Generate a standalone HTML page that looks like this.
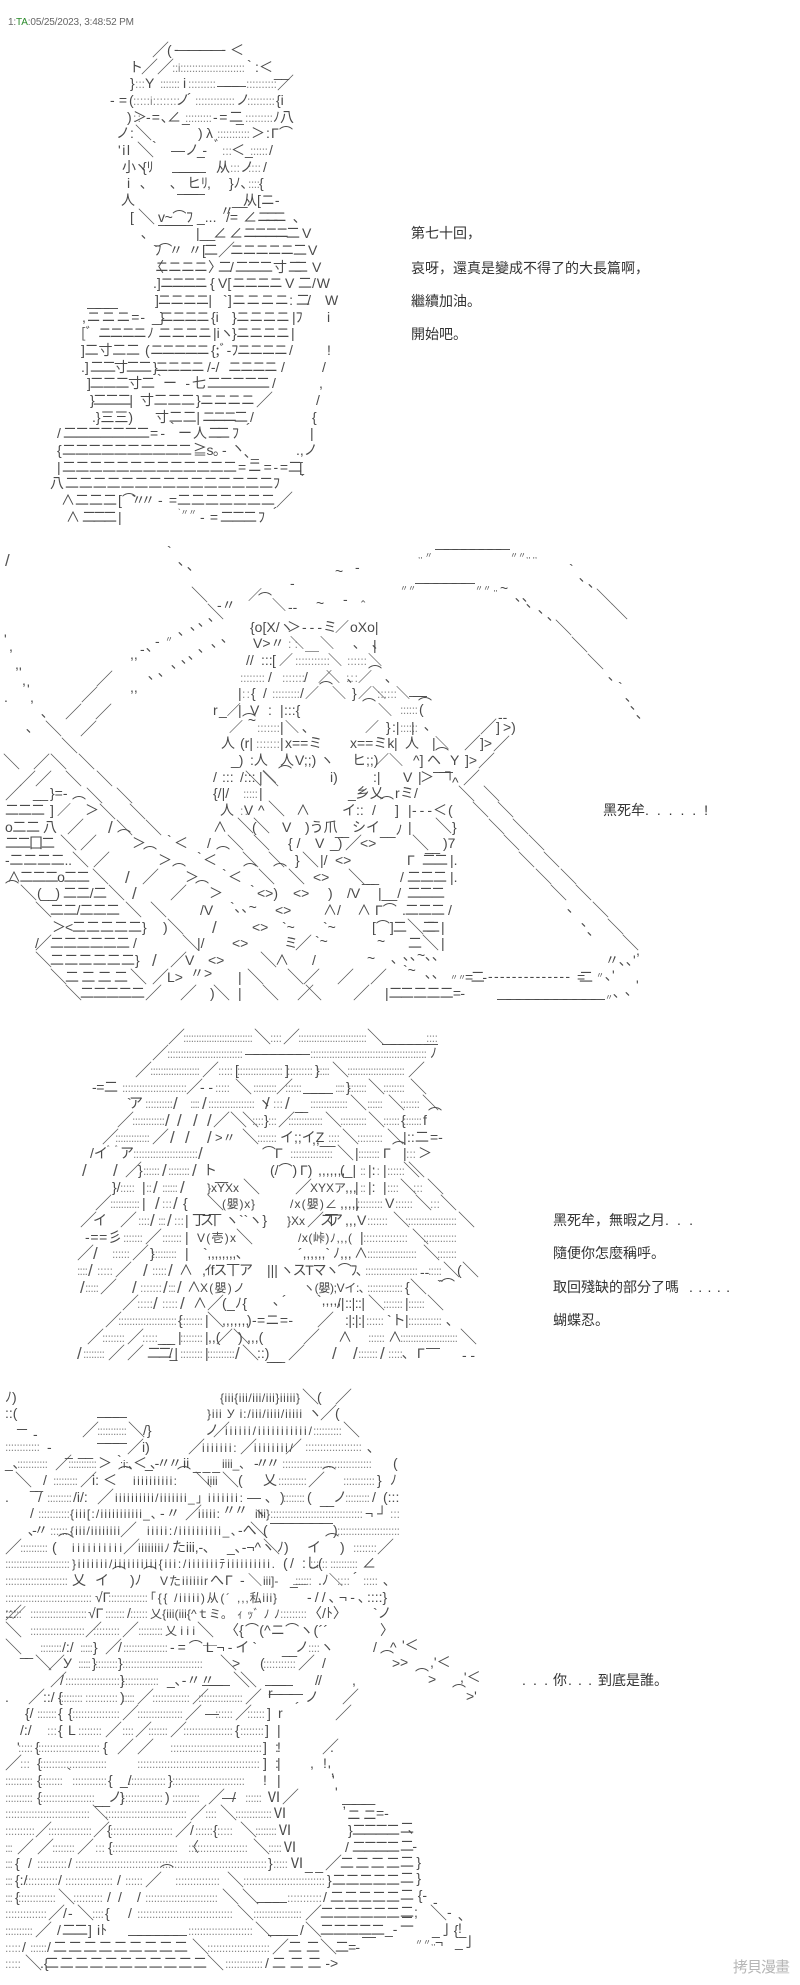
<!DOCTYPE html>
<html><head><meta charset="utf-8"><style>
html,body{margin:0;padding:0;background:#fff}
svg{display:block;position:absolute;left:0;top:0}
text{font-family:"Liberation Sans","Noto Sans CJK JP",sans-serif;font-size:14px;fill:#4a4a4a;white-space:pre}
.d text{font-size:12px;fill:#8a8a8a}
.l text{font-size:17px;fill:#555}
.m text{font-size:14px;fill:#333}
</style></head><body>
<svg width="800" height="1985" viewBox="0 0 800 1985" xmlns="http://www.w3.org/2000/svg">
<rect width="800" height="1985" fill="#fff"/>
<text x="8" y="25" style="font-size:10px;fill:#666" textLength="126">1:<tspan style="fill:#2a8a2a">TA</tspan>:05/25/2023, 3:48:52 PM</text>

<!-- FIG 1 -->
<g class="l">
<text x="152" y="56">／</text><text x="141" y="73">／</text><text x="157" y="73">／</text><text x="277" y="89">／</text><text x="135" y="139">＼</text><text x="137" y="156">＼</text><text x="138" y="223">＼</text><text x="256" y="406">／</text><text x="276" y="506">／</text><text x="218" y="256">／</text>
</g>
<g class="d">
<text x="172" y="72" textLength="73">::i::::::::::::::::::::::</text><text x="135" y="88" textLength="10">:::</text><text x="160" y="88" textLength="20">:::::::</text><text x="188" y="88" textLength="28">:::::::::</text><text x="246" y="88" textLength="31">::::::::::</text><text x="133" y="105" textLength="47">:::::i::::::::</text><text x="195" y="105" textLength="40">:::::::::::::</text><text x="247" y="105" textLength="28">:::::::::</text><text x="185" y="122" textLength="27">:::::::::</text><text x="245" y="122" textLength="28">:::::::::</text><text x="217" y="138" textLength="33">:::::::::::</text><text x="222" y="155" textLength="10">:::</text><text x="250" y="155" textLength="18">::::::</text><text x="230" y="172" textLength="10">:::</text><text x="248" y="172" textLength="13">::::</text><text x="248" y="188" textLength="12">::::</text><text x="133" y="122" textLength="8">::</text>
</g>
<text x="167" y="55">(</text><text x="174" y="54" textLength="52">-――――-</text><text x="230" y="55">＜</text>
<text x="129" y="72">ト</text><text x="247" y="70">`</text><text x="255" y="72">:</text><text x="259" y="72">＜</text><text x="274" y="77" textLength="15">__</text>
<text x="130" y="88">}</text><text x="145" y="88">Y</text><text x="183" y="88">i</text><text x="217" y="90" textLength="29">―――</text>
<text x="110" y="105" textLength="17">-=</text><text x="129" y="105">(</text><text x="176" y="105">ノ</text><text x="187" y="103">´</text><text x="236" y="105">ノ</text><text x="276" y="105">{i</text>
<text x="127" y="122">)</text><text x="133" y="122">＞</text><text x="146" y="122" textLength="22">-=､</text><text x="167" y="122">∠</text><text x="182" y="122">_</text><text x="213" y="122" textLength="30">-=二</text><text x="236" y="122" textLength="8">_</text><text x="273" y="122">ﾉ八</text>
<text x="116" y="138">ノ:</text><text x="198" y="138">)</text><text x="206" y="138">λ</text><text x="251" y="138">＞</text><text x="266" y="138">:</text><text x="271" y="138" textLength="22">Γ⌒</text>
<text x="118" y="155" textLength="12">'il</text><text x="152" y="151">`</text><text x="171" y="155">―</text><text x="185" y="155">ノ</text><text x="197" y="155" textLength="10">_-</text><text x="214" y="151">ﾞ</text><text x="231" y="155">＜</text><text x="245" y="155">_</text><text x="269" y="155">/</text>
<text x="122" y="172">小</text><text x="134" y="172">ヽ</text><text x="142" y="172">{ﾘ</text><text x="172" y="176" textLength="34">――――</text><text x="216" y="172">从</text><text x="240" y="172">ノ</text><text x="263" y="172">/</text>
<text x="127" y="188">i</text><text x="140" y="188">､</text><text x="170" y="188">､</text><text x="187" y="188">ヒﾘ</text><text x="207" y="188">,</text><text x="177" y="198" textLength="28">―――</text><text x="229" y="188">}ﾉ､</text><text x="259" y="188">{</text>
<text x="121" y="205">人</text><text x="232" y="205">__</text><text x="243" y="205">从[ニ-</text>
<text x="130" y="222">[</text><text x="158" y="222" textLength="35">v~⌒ﾌ</text><text x="197" y="222">_...</text><text x="220" y="216">〃</text><text x="226" y="222">/=</text><text x="243" y="222">∠</text><text x="257" y="222" textLength="30">ニニニ</text><text x="293" y="222">､</text>
<text x="141" y="238">､</text><text x="158" y="229" textLength="35">――――</text><text x="196" y="238">|__</text><text x="213" y="238">∠</text><text x="229" y="238">∠</text><text x="243" y="238" textLength="57">ニニニニ二</text><text x="302" y="238">V</text>
<text x="153" y="255" textLength="30">`ﾌ⌒〃</text><text x="188" y="255">〃[</text><text x="204" y="255">二</text><text x="230" y="255" textLength="77">ニニニニニ二</text><text x="308" y="255">V</text>
<text x="150" y="272">〈</text><text x="155" y="272" textLength="53">ニニニニ</text><text x="208" y="272">〉</text><text x="218" y="272">二</text><text x="230" y="272">/</text><text x="235" y="272" textLength="38">二二二</text><text x="273" y="272">寸</text><text x="288" y="272" textLength="20">二二</text><text x="312" y="272">V</text>
<text x="153" y="288">.]</text><text x="160" y="288" textLength="48">ニニニニ</text><text x="210" y="288">{</text><text x="218" y="288">V[</text><text x="232" y="288" textLength="51">ニニニニ</text><text x="285" y="288">V</text><text x="298" y="288">二</text><text x="312" y="288" textLength="18">/W</text>
<text x="155" y="305" textLength="57">]ニニニニ|</text><text x="223" y="305" textLength="70">`]ニニニニ:</text><text x="296" y="305" textLength="15">二/</text><text x="325" y="305">W</text>
<text x="87" y="312" textLength="31">―――</text><text x="82" y="322" textLength="63">,ニニニ=-</text><text x="152" y="322">_}</text><text x="160" y="322" textLength="50">ニニニニ</text><text x="211" y="322">{i</text><text x="232" y="322" textLength="58">}ニニニニ</text><text x="292" y="322">|ﾌ</text><text x="327" y="322">i</text>
<text x="81" y="338">[ﾞ</text><text x="98" y="338" textLength="49">ニニニニ</text><text x="147" y="338">ﾉ</text><text x="158" y="338" textLength="54">ニニニニ</text><text x="213" y="338">|iヽ</text><text x="232" y="338">}</text><text x="236" y="338" textLength="54">ニニニニ</text><text x="291" y="338">|</text>
<text x="81" y="355" textLength="59">]二寸二二</text><text x="145" y="355">(</text><text x="150" y="355" textLength="60">ニニニニニ</text><text x="211" y="355">{;ﾞ-ﾌ</text><text x="237" y="355" textLength="51">ニニニニ</text><text x="289" y="355">/</text><text x="327" y="355">!</text>
<text x="81" y="372">.]</text><text x="90" y="372" textLength="62">二二寸二二</text><text x="153" y="372">}</text><text x="155" y="372" textLength="50">ニニニニ</text><text x="207" y="372">/-/</text><text x="228" y="372" textLength="50">ニニニニ</text><text x="281" y="372">/</text><text x="322" y="372">/</text>
<text x="87" y="388" textLength="68">]二二二寸二</text><text x="157" y="384">`</text><text x="163" y="388" textLength="27">ー-</text><text x="192" y="388">七</text><text x="207" y="388" textLength="63">二二二二二</text><text x="272" y="388">/</text><text x="319" y="388">,</text>
<text x="90" y="405" textLength="43">}二二二|</text><text x="140" y="405" textLength="55">寸二二二</text><text x="196" y="405">}</text><text x="200" y="405" textLength="55">ニニニニ</text><text x="316" y="405">/</text>
<text x="92" y="422" textLength="41">.}三三)</text><text x="155" y="422" textLength="45">寸二二|</text><text x="202" y="422" textLength="46">ニニニ二</text><text x="250" y="422">/</text><text x="312" y="422">{</text>
<text x="57" y="438">/</text><text x="63" y="438" textLength="87">二二二二二二二</text><text x="150" y="438" textLength="15">=-</text><text x="170" y="432">`</text><text x="178" y="438">ー</text><text x="193" y="438">人</text><text x="208" y="438" textLength="22">二二</text><text x="232" y="438">ﾌ</text><text x="246" y="433">´</text><text x="310" y="438">|</text>
<text x="57" y="455">{</text><text x="62" y="455" textLength="130">二二二二二二二二二二</text><text x="193" y="455" textLength="27">≧s｡</text><text x="222" y="455">-</text><text x="231" y="453">ヽ</text><text x="244" y="457">､_</text><text x="296" y="455">.,ノ</text>
<text x="57" y="472">|</text><text x="62" y="472" textLength="175">二二二二二二二二二二二二二</text><text x="238" y="472" textLength="50">=ニ=-=</text><text x="288" y="472" textLength="15">二[</text>
<text x="50" y="488">八</text><text x="65" y="488" textLength="215">二二二二二二二二二二二二二二二ﾌ</text><text x="301" y="484">´</text>
<text x="61" y="505">∧</text><text x="75" y="505" textLength="42">二二二</text><text x="118" y="505">[</text><text x="122" y="505" textLength="33">⌒`〃〃</text><text x="158" y="505" textLength="19">-=</text><text x="177" y="505" textLength="98">二二二二二二二</text>
<text x="66" y="522">∧</text><text x="82" y="522" textLength="35">二二二</text><text x="118" y="522">|</text><text x="178" y="515" style="font-size:8px">`〃〃</text><text x="200" y="522" textLength="18">-=</text><text x="220" y="522" textLength="37">二二二</text><text x="258" y="522">ﾌ</text><text x="273" y="517">´</text>
<g class="m"><text x="411" y="238">第七十回，</text><text x="411" y="273">哀呀，還真是變成不得了的大長篇啊，</text><text x="411" y="306">繼續加油。</text><text x="411" y="339">開始吧。</text></g>

<!-- FIG 2 -->
<g class="l">
<text x="5" y="566">/</text><text x="191" y="601">＼</text><text x="207" y="618">＼</text>
<text x="96" y="685">／</text><text x="81" y="701">／</text><text x="65" y="718">／</text><text x="95" y="718">／</text><text x="80" y="735">／</text>
<text x="45" y="735">＼</text><text x="61" y="752">＼</text><text x="78" y="768">＼</text><text x="96" y="785">＼</text><text x="116" y="802">＼</text><text x="129" y="818">＼</text><text x="145" y="834">＼</text>
<text x="50" y="768">＼</text><text x="65" y="785">＼</text><text x="86" y="802">＼</text><text x="99" y="818">＼</text><text x="116" y="834">＼</text>
<text x="3" y="768">＼</text><text x="19" y="785">／</text><text x="33" y="768">／</text><text x="35" y="785">／</text><text x="5" y="799">／</text>
<text x="245" y="785">＼</text><text x="262" y="785">＼</text>
<text x="555" y="634">＼</text><text x="571" y="651">＼</text><text x="587" y="668">＼</text><text x="596" y="603">＼</text><text x="611" y="618">＼</text>
<text x="480" y="733">／</text><text x="464" y="749">／</text><text x="493" y="750">／</text><text x="478" y="767">／</text><text x="463" y="784">／</text>
<text x="483" y="800">＼</text><text x="497" y="816">＼</text><text x="512" y="833">＼</text><text x="528" y="849">＼</text><text x="543" y="866">＼</text><text x="560" y="883">＼</text><text x="575" y="899">＼</text><text x="592" y="916">＼</text><text x="607" y="933">＼</text><text x="622" y="949">＼</text>
<text x="458" y="800">＼</text><text x="472" y="816">＼</text><text x="488" y="833">＼</text><text x="503" y="849">＼</text><text x="518" y="866">＼</text><text x="535" y="883">＼</text><text x="550" y="899">＼</text>
<text x="60" y="849">＼</text><text x="72" y="866">＼</text><text x="92" y="883">＼</text><text x="20" y="899">＼</text><text x="108" y="899">＼</text><text x="35" y="916">＼</text><text x="125" y="916">＼</text><text x="150" y="916">＼</text><text x="167" y="933">＼</text><text x="182" y="949">＼</text><text x="35" y="966">＼</text><text x="50" y="983">＼</text><text x="65" y="999">＼</text><text x="35" y="949">／</text>
<text x="67" y="833">／</text><text x="80" y="849">／</text><text x="108" y="833">/</text><text x="93" y="866">／</text><text x="125" y="883">/</text><text x="142" y="883">／</text><text x="132" y="899">/</text><text x="170" y="899">／</text><text x="212" y="933">/</text><text x="170" y="966">／</text><text x="152" y="983">／</text><text x="180" y="999">／</text><text x="145" y="999">／</text><text x="130" y="983">＼</text><text x="152" y="966">/</text>
<text x="227" y="849">＼</text><text x="253" y="849">＼</text><text x="242" y="866">＼</text><text x="268" y="866">＼</text><text x="258" y="883">＼</text><text x="288" y="883">＼</text><text x="302" y="866">＼</text><text x="348" y="883">＼</text><text x="237" y="832">＼</text><text x="253" y="832">＼</text><text x="268" y="815">＼</text><text x="345" y="849">／</text><text x="295" y="949">／</text><text x="260" y="966">＼</text><text x="247" y="983">＼</text><text x="287" y="983">＼</text><text x="303" y="983">／</text><text x="337" y="983">／</text><text x="370" y="983">／</text><text x="213" y="999">＼</text><text x="262" y="999">＼</text><text x="297" y="999">／</text><text x="305" y="999">＼</text><text x="353" y="999">／</text>
<text x="412" y="849">＼</text><text x="435" y="832">＼</text><text x="407" y="933">＼</text><text x="422" y="949">＼</text>
</g>
<g class="d">
<text x="288" y="648" textLength="10">::</text><text x="295" y="665" textLength="35">:::::::::::</text><text x="347" y="665" textLength="20">::::::</text><text x="240" y="682" textLength="25">::::::::</text><text x="282" y="682" textLength="23">:::::::</text><text x="346" y="682" textLength="12">:::</text><text x="272" y="698" textLength="28">:::::::::</text><text x="377" y="698" textLength="20">::::::</text><text x="257" y="732" textLength="23">:::::::</text><text x="256" y="748" textLength="24">:::::::</text><text x="400" y="732" textLength="18">::::::</text><text x="400" y="714" textLength="18">::::::</text><text x="243" y="798" textLength="15">:::::</text><text x="240" y="815" textLength="8">::</text><text x="242" y="698" textLength="8">::</text>
</g>
<text x="418" y="558" style="font-size:8px">,, 〃</text><text x="435" y="553" textLength="75">――――――――</text><text x="510" y="558" style="font-size:8px">〃〃,, ,,</text>
<text x="400" y="591" style="font-size:8px">〃〃</text><text x="415" y="587" textLength="60">――――――</text><text x="475" y="591" style="font-size:8px">〃〃 ,,</text><text x="500" y="593">~</text>
<text x="167" y="556">`</text><text x="178" y="565">､</text><text x="187" y="570">､</text><text x="335" y="576">~</text><text x="355" y="572">-</text><text x="290" y="588">-</text>
<text x="569" y="574">`</text><text x="579" y="581">､</text><text x="588" y="587">､</text><text x="515" y="601">､､</text><text x="526" y="607">､</text><text x="538" y="613">､</text><text x="547" y="620">､</text><text x="608" y="680">､</text><text x="618" y="692">`</text><text x="625" y="701">､</text><text x="630" y="709">､</text><text x="636" y="718">､</text>
<text x="217" y="610">-〃</text><text x="208" y="621">､</text><text x="198" y="626">､</text><text x="190" y="630">､</text><text x="178" y="635">､</text><text x="165" y="642" style="font-size:8px">〃</text><text x="155" y="646">-</text><text x="146" y="651">､</text><text x="140" y="654">-</text><text x="130" y="659">,,</text>
<text x="221" y="642">､</text><text x="211" y="647">､</text><text x="198" y="652">､</text><text x="188" y="659">､</text><text x="181" y="663">､</text><text x="171" y="668">､</text><text x="158" y="676">､</text><text x="148" y="679">､</text><text x="130" y="692">,,</text>
<text x="4" y="644">'</text><text x="9" y="651">,</text><text x="15" y="669">,</text><text x="19" y="677">'</text><text x="22" y="685">,</text><text x="27" y="694">'</text><text x="30" y="702">,</text><text x="4" y="702">.</text><text x="41" y="717">､</text><text x="26" y="732">､</text>
<text x="248" y="600">／</text><text x="258" y="604" textLength="12">⌒</text><text x="272" y="610">＼</text><text x="288" y="612">--</text><text x="316" y="608">~</text><text x="343" y="604">-</text><text x="356" y="614">＾</text>
<text x="250" y="632">{o[X/ヽ</text><text x="287" y="632">＞</text><text x="302" y="632" textLength="20">---</text><text x="323" y="632">ミ</text><text x="335" y="632">／</text><text x="350" y="632">oXo|</text>
<text x="253" y="648">V&gt;〃</text><text x="290" y="648">＼</text><text x="305" y="650" textLength="15">＿</text><text x="320" y="648">＼</text><text x="353" y="648">､</text><text x="372" y="648">､</text><text x="373" y="650">|</text>
<text x="246" y="665">//</text><text x="261" y="665">:::</text><text x="272" y="665">[</text><text x="279" y="665">／</text><text x="328" y="665">＼</text><text x="368" y="665">＼</text>
<text x="268" y="682">/</text><text x="304" y="682">/</text><text x="318" y="682">／</text><text x="326" y="682">＼</text><text x="347" y="682">､</text><text x="358" y="682">／</text><text x="368" y="677">⌒</text><text x="385" y="682">､</text>
<text x="238" y="698">|</text><text x="251" y="698">{</text><text x="263" y="698">/</text><text x="300" y="698">/</text><text x="305" y="698">／</text><text x="319" y="693">⌒</text><text x="332" y="698">＼</text><text x="352" y="698">}</text><text x="358" y="698">／＼</text><text x="396" y="698">＼</text><text x="409" y="700" textLength="18">――</text>
<text x="213" y="715">r</text><text x="219" y="715">_／</text><text x="238" y="715">|</text><text x="250" y="715">V</text><text x="268" y="715">:</text><text x="280" y="715">|</text><text x="284" y="715">:::{</text><text x="362" y="710" textLength="15">⌒</text><text x="378" y="715">＼</text><text x="418" y="709">⌒</text><text x="419" y="714">(</text>
<text x="229" y="732">／</text><text x="242" y="725" textLength="14">⌒~</text><text x="280" y="732">|</text><text x="285" y="732">＼</text><text x="302" y="732">､</text><text x="365" y="732">／</text><text x="386" y="732">}</text><text x="392" y="732">:|</text><text x="411" y="732">|</text><text x="424" y="730">､</text><text x="496" y="732">]</text><text x="498" y="722">--</text><text x="503" y="732">&gt;)</text>
<text x="221" y="748">人</text><text x="240" y="748">(r|</text><text x="280" y="748">|</text><text x="285" y="748">x==ミ</text><text x="350" y="748">x==ミk</text><text x="394" y="748">|</text><text x="405" y="748">人</text><text x="432" y="748">|</text><text x="435" y="748">＼</text><text x="480" y="748">]&gt;</text>
<text x="231" y="765">_)</text><text x="250" y="765">:人</text><text x="280" y="765">人</text><text x="295" y="765">V;;)</text><text x="320" y="765">ヽ</text><text x="352" y="765">ヒ;;)</text><text x="375" y="765">／＼</text><text x="413" y="765">^]</text><text x="427" y="765">ヘ</text><text x="435" y="759" textLength="12">⌒</text><text x="450" y="765">Y</text><text x="465" y="765">]&gt;</text>
<text x="213" y="782">/</text><text x="222" y="782">:::</text><text x="240" y="782">/:::</text><text x="259" y="782">|＼</text><text x="278" y="777" textLength="17">⌒</text><text x="330" y="782">i)</text><text x="373" y="782">:|</text><text x="403" y="782">V</text><text x="418" y="782">|</text><text x="420" y="782">＞</text><text x="433" y="776" textLength="22">――┐</text><text x="452" y="787" textLength="8">^</text>
<text x="33" y="798" textLength="15">__</text><text x="50" y="798">}=-</text><text x="213" y="798">{/|/</text><text x="259" y="798">|</text><text x="348" y="798">_乡乂</text><text x="395" y="798">r</text><text x="400" y="798">ミ/</text>
<text x="5" y="815" textLength="40">二二二</text><text x="50" y="815">]</text><text x="57" y="815">／</text><text x="72" y="808" textLength="13">⌒</text><text x="85" y="815">＞</text><text x="220" y="815">人</text><text x="240" y="815"> V</text><text x="258" y="815">^</text><text x="296" y="815">∧</text><text x="342" y="815">イ::</text><text x="372" y="815">/</text><text x="380" y="808" textLength="12">⌒</text><text x="395" y="815">]</text><text x="408" y="815">|</text><text x="412" y="815" textLength="20">---</text><text x="433" y="815">＜</text><text x="448" y="815">(</text>
<text x="5" y="832" textLength="35">o二二</text><text x="43" y="832">八</text><text x="213" y="832">∧</text><text x="252" y="832">(</text><text x="282" y="832">V</text><text x="305" y="832">)う爪</text><text x="335" y="835" textLength="14">__</text><text x="352" y="832">シイ</text><text x="380" y="835">__ﾉ</text><text x="408" y="832">|</text><text x="452" y="832">}</text>
<text x="5" y="848" textLength="50">二二囗二</text><text x="117" y="841" textLength="13">⌒</text><text x="132" y="848">＞</text><text x="167" y="845">`</text><text x="174" y="848">＜</text><text x="207" y="848">/</text><text x="288" y="848">{ /</text><text x="315" y="848">V</text><text x="330" y="848">_)</text><text x="360" y="848">&lt;&gt;</text><text x="425" y="851" textLength="15">__</text><text x="443" y="848">)7</text>
<text x="5" y="865" textLength="67">-二二二二..</text><text x="143" y="858" textLength="14">⌒</text><text x="158" y="865">＞</text><text x="197" y="862">`</text><text x="203" y="865">＜</text><text x="216" y="858" textLength="14">⌒</text><text x="295" y="865">}</text><text x="320" y="865">|/</text><text x="335" y="865">&lt;&gt;</text><text x="407" y="865">Γ</text><text x="422" y="865" textLength="26">二二</text><text x="450" y="865">|.</text>
<text x="7" y="882" textLength="83">∧二二二o二二</text><text x="172" y="875" textLength="13">⌒</text><text x="185" y="882">＞</text><text x="222" y="879">`</text><text x="228" y="882">＜</text><text x="243" y="875" textLength="14">⌒</text><text x="273" y="875" textLength="14">⌒</text><text x="313" y="882">&lt;&gt;</text><text x="362" y="882" textLength="17">___</text><text x="400" y="882">/</text><text x="407" y="882" textLength="40">二二二</text><text x="450" y="882">|.</text>
<text x="5" y="892" textLength="13">⌒</text><text x="37" y="898" textLength="23">(__)</text><text x="63" y="898" textLength="44">二二/二</text><text x="195" y="892" textLength="14">⌒</text><text x="209" y="898">＞</text><text x="250" y="895">`</text><text x="257" y="898">&lt;&gt;)</text><text x="293" y="898">&lt;&gt;</text><text x="328" y="898">)</text><text x="347" y="898">/V</text><text x="378" y="898">|__/</text><text x="407" y="898" textLength="38">二二二</text>
<text x="50" y="915" textLength="70">二二/二二二</text><text x="200" y="915">/V</text><text x="230" y="912">`､､~</text><text x="275" y="915">&lt;&gt;</text><text x="323" y="915">∧/</text><text x="357" y="915">∧</text><text x="375" y="915">Γ⌒</text><text x="402" y="915" textLength="43">.二二二</text><text x="448" y="915">/</text>
<text x="52" y="932">＞</text><text x="65" y="932">&lt;</text><text x="72" y="932" textLength="70">二二二二二</text><text x="142" y="932">}</text><text x="163" y="932">)</text><text x="252" y="932">&lt;&gt;</text><text x="282" y="932">`~</text><text x="323" y="932">`~</text><text x="372" y="932">[⌒]</text><text x="393" y="932">二</text><text x="422" y="932" textLength="18">二二</text><text x="441" y="932">|</text>
<text x="35" y="948">/</text><text x="50" y="948" textLength="80">二二二二二二</text><text x="133" y="948">/</text><text x="197" y="948">|/</text><text x="232" y="948">&lt;&gt;</text><text x="284" y="948">ミ</text><text x="315" y="946">`~</text><text x="377" y="946">~</text><text x="408" y="948">二</text><text x="441" y="948">|</text>
<text x="50" y="965" textLength="85">二二二二二二</text><text x="135" y="965">}</text><text x="185" y="965">V</text><text x="208" y="965">&lt;&gt;</text><text x="275" y="965">∧</text><text x="312" y="965">/</text><text x="367" y="963">~</text><text x="391" y="963">､</text><text x="403" y="960">､､~､､</text><text x="605" y="965">〃､､'</text>
<text x="65" y="982" textLength="63">二二二二</text><text x="167" y="982">L&gt;</text><text x="190" y="978">〃&gt;</text><text x="238" y="982">|</text><text x="403" y="975">`~</text><text x="425" y="978">､､</text><text x="450" y="980" style="font-size:8px">〃〃</text><text x="465" y="982" textLength="22">=二-</text><text x="488" y="981" textLength="82">--------------</text><text x="577" y="982" textLength="16">=二</text><text x="596" y="978" style="font-size:8px">〃</text><text x="605" y="980">､'</text>
<text x="80" y="998" textLength="65">二二二二二</text><text x="210" y="998">)</text><text x="238" y="998">|</text><text x="385" y="998">|二</text><text x="400" y="998" textLength="65">二二二二=-</text><text x="497" y="1003" textLength="108">―――――――――――</text><text x="605" y="1000" style="font-size:8px">〃</text><text x="613" y="997">､</text><text x="625" y="995">､</text><text x="636" y="990">'</text>
<text x="567" y="912">､</text><text x="581" y="926">､</text><text x="587" y="935">､</text><text x="636" y="955">,</text>
<g class="m"><text x="603" y="815">黑死牟</text><text x="645" y="815" textLength="63">. . . . . !</text></g>

<!-- FIG 3 -->
<g class="l">
<text x="168" y="1043">／</text><text x="254" y="1043">＼</text><text x="283" y="1043">／</text><text x="367" y="1043">＼</text>
<text x="152" y="1059">／</text>
<text x="135" y="1076">／</text><text x="202" y="1076">／</text><text x="332" y="1076">＼</text><text x="408" y="1076">／</text>
<text x="186" y="1093">／</text><text x="235" y="1093">＼</text><text x="276" y="1093">／</text><text x="368" y="1093">＼</text><text x="410" y="1093">＼</text>
<text x="173" y="1109">/</text><text x="202" y="1109">/</text><text x="265" y="1109">/</text><text x="285" y="1109">/</text><text x="350" y="1109">＼</text><text x="388" y="1109">＼</text><text x="422" y="1109">＼</text>
<text x="117" y="1126">／</text><text x="165" y="1126">/</text><text x="177" y="1126">/</text><text x="193" y="1126">/</text><text x="207" y="1126">/</text><text x="213" y="1126">／＼</text><text x="242" y="1126">＼</text><text x="278" y="1126">／</text><text x="325" y="1126">＼</text><text x="368" y="1126">＼</text>
<text x="102" y="1143">／</text><text x="152" y="1143">／</text><text x="170" y="1143">/</text><text x="185" y="1143">/</text><text x="207" y="1143">/</text><text x="242" y="1143">＼</text><text x="342" y="1143">＼</text><text x="387" y="1143">＼</text>
<text x="198" y="1159">/</text><text x="337" y="1159">＼</text><text x="403" y="1176">＼</text>
<text x="82" y="1176">/</text><text x="113" y="1176">/</text><text x="125" y="1176">／</text><text x="162" y="1176">/</text><text x="192" y="1176">/</text><text x="408" y="1176">＼</text>
<text x="153" y="1193">/</text><text x="180" y="1193">/</text><text x="243" y="1193">＼</text><text x="295" y="1193">／</text><text x="400" y="1193">＼</text><text x="427" y="1193">＼</text>
<text x="95" y="1209">／</text><text x="155" y="1209">/</text><text x="173" y="1209">/</text><text x="207" y="1209">＼</text><text x="415" y="1209">＼</text><text x="440" y="1209">＼</text>
<text x="80" y="1226">／</text><text x="120" y="1226">／</text><text x="150" y="1226">/</text><text x="167" y="1226">/</text><text x="393" y="1226">＼</text><text x="458" y="1226">＼</text><text x="307" y="1226">／</text>
<text x="145" y="1243">／</text><text x="236" y="1243">＼</text><text x="412" y="1243">＼</text>
<text x="77" y="1259">／</text><text x="93" y="1259">/</text><text x="132" y="1259">／</text><text x="423" y="1259">＼</text>
<text x="88" y="1276">/</text><text x="115" y="1276">／</text><text x="143" y="1276">/</text><text x="168" y="1276">/</text><text x="443" y="1276">＼</text><text x="462" y="1276">＼</text>
<text x="80" y="1293">/</text><text x="100" y="1293">／</text><text x="132" y="1293">/</text><text x="163" y="1293">/</text><text x="177" y="1293">/</text><text x="410" y="1293">＼</text>
<text x="122" y="1309">／</text><text x="153" y="1309">/</text><text x="180" y="1309">/</text><text x="207" y="1309">／</text><text x="368" y="1309">＼</text><text x="427" y="1309">＼</text>
<text x="105" y="1326">／</text><text x="207" y="1326">＼</text><text x="317" y="1326">／</text>
<text x="87" y="1343">／</text><text x="127" y="1343">／</text><text x="303" y="1343">／</text><text x="460" y="1343">＼</text><text x="216" y="1343">／＼</text>
<text x="77" y="1359">/</text><text x="108" y="1359">／</text><text x="127" y="1359">／</text><text x="235" y="1359">/</text><text x="242" y="1359">＼</text><text x="288" y="1359">／</text><text x="332" y="1359">/</text><text x="353" y="1359">/</text><text x="380" y="1359">/</text>
</g>
<g class="d">
<text x="183" y="1042" textLength="70">:::::::::::::::::::::::::::</text><text x="270" y="1042" textLength="12">::::</text><text x="298" y="1042" textLength="69">::::::::::::::::::::::::::</text><text x="426" y="1042" textLength="12">::::</text>
<text x="167" y="1058" textLength="76">::::::::::::::::::::::::::::</text><text x="310" y="1058" textLength="117">:::::::::::::::::::::::::::::::::::::::::::</text>
<text x="150" y="1075" textLength="50">:::::::::::::::::::</text><text x="218" y="1075" textLength="15">:::::</text><text x="237" y="1075" textLength="46">:::::::::::::::::</text><text x="287" y="1075" textLength="26">:::::::::</text><text x="317" y="1075" textLength="13">:::::</text><text x="347" y="1075" textLength="58">::::::::::::::::::::::</text>
<text x="122" y="1092" textLength="65">:::::::::::::::::::::::</text><text x="215" y="1092" textLength="15">:::::</text><text x="253" y="1092" textLength="24">:::::::::</text><text x="285" y="1092" textLength="17">::::::</text><text x="335" y="1092" textLength="10">::::</text><text x="348" y="1092" textLength="19">:::::::</text><text x="383" y="1092" textLength="22">::::::::</text>
<text x="145" y="1108" textLength="28">::::::::::</text><text x="190" y="1108" textLength="10">::::</text><text x="208" y="1108" textLength="47">:::::::::::::::::</text><text x="310" y="1108" textLength="38">::::::::::::::</text><text x="367" y="1108" textLength="16">::::::</text><text x="400" y="1108" textLength="20">:::::::</text><text x="273" y="1108" textLength="10">:::</text>
<text x="132" y="1125" textLength="33">::::::::::::</text><text x="288" y="1125" textLength="35">:::::::::::::</text><text x="340" y="1125" textLength="27">::::::::::</text><text x="383" y="1125" textLength="17">::::::</text><text x="403" y="1125" textLength="19">:::::::</text><text x="252" y="1125" textLength="12">::::</text><text x="268" y="1125" textLength="9">:::</text>
<text x="115" y="1142" textLength="35">:::::::::::::</text><text x="257" y="1142" textLength="20">:::::::</text><text x="328" y="1142" textLength="12">::::</text><text x="357" y="1142" textLength="26">:::::::::</text>
<text x="133" y="1158" textLength="65">:::::::::::::::::::::::</text><text x="358" y="1158" textLength="22">::::::::</text><text x="290" y="1158" textLength="43">:::::::::::::::</text><text x="406" y="1158" textLength="10">:::</text>
<text x="143" y="1175" textLength="17">::::::</text><text x="168" y="1175" textLength="22">::::::::</text><text x="387" y="1175" textLength="18">::::::</text><text x="360" y="1175" textLength="6">::</text><text x="372" y="1175" textLength="8">::</text>
<text x="120" y="1192" textLength="15">:::::</text><text x="146" y="1192" textLength="6">::</text><text x="162" y="1192" textLength="16">::::::</text><text x="360" y="1192" textLength="6">::</text><text x="387" y="1192" textLength="12">::::</text><text x="413" y="1192" textLength="10">:::</text>
<text x="110" y="1208" textLength="30">:::::::::::</text><text x="162" y="1208" textLength="10">:::</text><text x="357" y="1208" textLength="26">:::::::::</text><text x="395" y="1208" textLength="18">::::::</text><text x="430" y="1208" textLength="10">:::</text>
<text x="138" y="1225" textLength="12">::::</text><text x="158" y="1225" textLength="8">:::</text><text x="174" y="1225" textLength="10">:::</text><text x="367" y="1225" textLength="21">:::::::</text><text x="405" y="1225" textLength="52">:::::::::::::::::::</text>
<text x="123" y="1242" textLength="20">:::::::</text><text x="162" y="1242" textLength="20">:::::::</text><text x="363" y="1242" textLength="45">:::::::::::::::</text><text x="423" y="1242" textLength="34">::::::::::::</text>
<text x="112" y="1258" textLength="18">::::::</text><text x="152" y="1258" textLength="25">:::::::::</text><text x="367" y="1258" textLength="50">::::::::::::::::::</text><text x="437" y="1258" textLength="20">:::::::</text>
<text x="77" y="1275" textLength="11">::::</text><text x="97" y="1275" textLength="16">:::::</text><text x="152" y="1275" textLength="15">:::::</text><text x="365" y="1275" textLength="53">:::::::::::::::::::</text><text x="428" y="1275" textLength="14">:::::</text>
<text x="85" y="1292" textLength="14">:::::</text><text x="140" y="1292" textLength="22">:::::::</text><text x="168" y="1292" textLength="8">:::</text><text x="367" y="1292" textLength="36">:::::::::::::</text>
<text x="137" y="1308" textLength="16">:::::</text><text x="162" y="1308" textLength="16">:::::</text><text x="383" y="1308" textLength="20">:::::::</text><text x="408" y="1308" textLength="17">::::::</text>
<text x="118" y="1325" textLength="59">:::::::::::::::::::::</text><text x="180" y="1325" textLength="23">::::::::</text><text x="366" y="1325" textLength="18">::::::</text><text x="408" y="1325" textLength="34">::::::::::::</text>
<text x="102" y="1342" textLength="23">::::::::</text><text x="142" y="1342" textLength="16">:::::</text><text x="180" y="1342" textLength="23">::::::::</text><text x="368" y="1342" textLength="17">::::::</text><text x="400" y="1342" textLength="58">::::::::::::::::::::::</text>
<text x="83" y="1358" textLength="22">::::::::</text><text x="180" y="1358" textLength="23">::::::::</text><text x="207" y="1358" textLength="28">::::::::::</text><text x="358" y="1358" textLength="20">:::::::</text><text x="388" y="1358" textLength="15">:::::</text>
</g>
<text x="382" y="1048" textLength="56">――――――</text>
<text x="245" y="1058" textLength="65">―――――――</text><text x="430" y="1058">ﾉ</text>
<text x="235" y="1075">[</text><text x="285" y="1075">]</text><text x="315" y="1075">}</text>
<text x="92" y="1092" textLength="26">-=二</text><text x="200" y="1092" textLength="13">--</text><text x="303" y="1097" textLength="30">―――</text><text x="346" y="1092">}</text>
<text x="127" y="1108" textLength="16">`ア</text><text x="258" y="1108">ヽ</text><text x="295" y="1110" textLength="13">__</text>
<text x="264" y="1125">}</text><text x="401" y="1125">{</text><text x="423" y="1125">f</text><text x="428" y="1119" textLength="12">⌒</text>
<text x="215" y="1142" style="font-size:13px">&gt;〃</text><text x="280" y="1142">イ;;イZ</text><text x="312" y="1144">,,__</text><text x="403" y="1142">|</text><text x="407" y="1142">::</text><text x="415" y="1142" textLength="18">二</text><text x="430" y="1142">=-</text>
<text x="90" y="1158">/イ</text><text x="107" y="1152" style="font-size:8px">゛゛</text><text x="120" y="1158">ア</text><text x="262" y="1158" textLength="12">⌒</text><text x="275" y="1158">Γ</text><text x="355" y="1158">|</text><text x="383" y="1158">Γ</text><text x="392" y="1153">⌒</text><text x="403" y="1158">|</text><text x="418" y="1158">＞</text>
<text x="138" y="1175">}</text><text x="203" y="1175">ト</text><text x="215" y="1180" textLength="13">__</text><text x="270" y="1175">(/⌒)</text><text x="300" y="1175">Γ)</text><text x="318" y="1175">,,,,,,,</text><text x="340" y="1175">(_|</text><text x="368" y="1175">|:</text><text x="383" y="1175">|</text>
<text x="112" y="1192">}/</text><text x="142" y="1192">|</text><text x="207" y="1192" style="font-size:12px">}xYXx</text><text x="310" y="1192" style="font-size:12px">XYXア</text><text x="345" y="1192">,,,</text><text x="355" y="1192">|</text><text x="368" y="1192">|:</text><text x="383" y="1192">|</text>
<text x="142" y="1208">|</text><text x="183" y="1208">{</text><text x="222" y="1208" textLength="33" style="font-size:12px">(嬰)x}</text><text x="290" y="1208" textLength="47" style="font-size:12px">/x(嬰)∠</text><text x="340" y="1208">,,,,,</text><text x="355" y="1208">|</text><text x="385" y="1208">V</text>
<text x="93" y="1225">イ</text><text x="185" y="1225">|</text><text x="192" y="1225" textLength="30">丁ス丅</text><text x="225" y="1225">ヽ``ヽ}</text><text x="287" y="1225" style="font-size:12px">}Xx</text><text x="320" y="1225" textLength="23">ス丅ア</text><text x="345" y="1225">,,,</text><text x="357" y="1225">V</text>
<text x="85" y="1242" textLength="37">-==彡</text><text x="185" y="1242">|</text><text x="197" y="1242" textLength="39" style="font-size:12px">V(壱)x</text><text x="298" y="1242" textLength="54" style="font-size:12px">/x(峠)ﾉ,,,(</text><text x="360" y="1242">|</text>
<text x="150" y="1258">}</text><text x="185" y="1258">|</text><text x="203" y="1258" textLength="40">`,,,,,,,,､</text><text x="298" y="1258" textLength="32">´,,,,,,`</text><text x="333" y="1258">ﾉ,,,</text><text x="354" y="1258">∧</text>
<text x="179" y="1275">∧</text><text x="202" y="1275" textLength="51">,ｲfス丅ア</text><text x="267" y="1275">|||</text><text x="280" y="1275" textLength="83">ヽスTマヽ⌒ﾌ､</text><text x="420" y="1277">--</text><text x="457" y="1275">(</text>
<text x="187" y="1292">∧</text><text x="200" y="1292" textLength="45" style="font-size:12px">X(嬰)ノ</text><text x="303" y="1292" textLength="62" style="font-size:12px">ヽ(嬰);Vイ:､</text><text x="405" y="1292">{</text><text x="437" y="1290" textLength="18">``⌒</text>
<text x="193" y="1308">∧</text><text x="222" y="1308" textLength="25">(_ﾉ{</text><text x="273" y="1305">､</text><text x="282" y="1305">´</text><text x="317" y="1305">`,,,,,</text><text x="337" y="1308">/|</text><text x="345" y="1308" textLength="20">::|::|</text><text x="405" y="1308">|</text>
<text x="178" y="1325">{</text><text x="205" y="1325">|</text><text x="222" y="1325">,,,,,,,</text><text x="247" y="1325">)</text><text x="252" y="1325" textLength="41">-=ニ=-</text><text x="345" y="1325" textLength="20">:|:|:|</text><text x="387" y="1325">`ト</text><text x="405" y="1325">|</text><text x="446" y="1325">､</text>
<text x="158" y="1342" textLength="17">___</text><text x="178" y="1342">|</text><text x="205" y="1342">|</text><text x="208" y="1342">,,(</text><text x="238" y="1342">)</text><text x="247" y="1342">,,,(</text><text x="338" y="1342">∧</text><text x="388" y="1342">∧</text>
<text x="147" y="1358" textLength="31">二二/_|</text><text x="205" y="1358">|</text><text x="257" y="1358">::)</text><text x="267" y="1360" textLength="18">____</text><text x="402" y="1358">､</text><text x="417" y="1358">Γ</text><text x="426" y="1352">―</text><text x="462" y="1360" textLength="13">--</text>
<g class="m"><text x="553" y="1225">黑死牟，無暇之月</text><text x="665" y="1225" textLength="28">. . .</text><text x="553" y="1258">隨便你怎麼稱呼。</text><text x="553" y="1292">取回殘缺的部分了嗎</text><text x="689" y="1292" textLength="41">. . . . .</text><text x="553" y="1325">蝴蝶忍。</text></g>

<!-- FIG 4 -->
<g class="l">
<text x="302" y="1403">＼</text><text x="335" y="1403">／</text><text x="320" y="1419">／</text><text x="82" y="1436">／</text><text x="128" y="1436">＼</text><text x="343" y="1436">＼</text><text x="213" y="1436">／</text>
<text x="127" y="1453">／</text><text x="188" y="1453">／</text><text x="285" y="1453">／</text><text x="240" y="1453">／</text><text x="55" y="1469">／</text><text x="15" y="1486">＼</text><text x="80" y="1486">／</text><text x="195" y="1486">＼</text><text x="222" y="1486">＼</text><text x="308" y="1486">／</text><text x="97" y="1503">／</text><text x="185" y="1519">／</text><text x="120" y="1536">／</text><text x="5" y="1553">／</text><text x="123" y="1553">／</text><text x="377" y="1553">／</text><text x="250" y="1536">＼</text><text x="263" y="1553">＼</text><text x="5" y="1653">＼</text><text x="5" y="1636">＼</text><text x="85" y="1636">／</text><text x="122" y="1636">／</text><text x="197" y="1636">＼</text><text x="5" y="1619">／</text><text x="105" y="1653">／</text><text x="35" y="1669">＼</text><text x="48" y="1669">／</text><text x="220" y="1669">＼</text><text x="298" y="1669">／</text><text x="50" y="1686">／</text><text x="233" y="1686">＼</text><text x="240" y="1686">＼</text><text x="28" y="1703">／</text><text x="137" y="1703">／</text><text x="192" y="1703">／</text><text x="245" y="1703">／</text><text x="342" y="1703">／</text><text x="122" y="1719">／</text><text x="185" y="1719">／</text><text x="235" y="1719">／</text><text x="335" y="1719">／</text><text x="105" y="1736">／</text><text x="135" y="1736">／</text><text x="170" y="1736">／</text><text x="117" y="1753">／</text><text x="137" y="1753">／</text><text x="322" y="1753">／</text><text x="5" y="1769">／</text><text x="208" y="1803">／</text><text x="282" y="1803">／</text><text x="92" y="1819">＼</text><text x="190" y="1819">／</text><text x="220" y="1819">＼</text><text x="35" y="1836">／</text><text x="93" y="1836">／</text><text x="175" y="1836">／</text><text x="240" y="1836">＼</text><text x="17" y="1853">／</text><text x="37" y="1853">／</text><text x="77" y="1853">／</text><text x="253" y="1853">＼</text><text x="325" y="1869">／</text><text x="145" y="1886">／</text><text x="227" y="1886">＼</text><text x="58" y="1903">＼</text><text x="222" y="1903">＼</text><text x="242" y="1903">＼</text><text x="48" y="1919">／</text><text x="77" y="1919">＼</text><text x="237" y="1919">＼</text><text x="305" y="1919">／</text><text x="35" y="1936">／</text><text x="255" y="1936">＼</text><text x="305" y="1936">＼</text><text x="192" y="1953">＼</text><text x="272" y="1953">／</text><text x="320" y="1953">＼</text><text x="25" y="1969">＼</text><text x="207" y="1969">＼</text><text x="430" y="1919">＼</text>
</g>
<g class="d">
<text x="5" y="1451" textLength="35">::::::::::::</text><text x="97" y="1435" textLength="30">:::::::::::</text><text x="313" y="1435" textLength="29">::::::::::</text><text x="305" y="1451" textLength="57">:::::::::::::::::::</text>
<text x="17" y="1468" textLength="31">:::::::::::</text><text x="68" y="1468" textLength="29">:::::::::::</text><text x="282" y="1468" textLength="90">:::::::::::::::::::::::::::::::</text>
<text x="53" y="1485" textLength="25">:::::::::</text><text x="278" y="1485" textLength="29">::::::::::</text><text x="343" y="1485" textLength="32">:::::::::::</text>
<text x="47" y="1502" textLength="25">:::::::::</text><text x="283" y="1502" textLength="22">::::::::</text><text x="345" y="1502" textLength="25">:::::::::</text>
<text x="38" y="1518" textLength="32">:::::::::::</text><text x="270" y="1518" textLength="93">::::::::::::::::::::::::::::::::</text><text x="390" y="1518" textLength="10">:::</text>
<text x="50" y="1535" textLength="18">::::::</text><text x="337" y="1535" textLength="63">::::::::::::::::::::::</text>
<text x="20" y="1552" textLength="28">::::::::::</text><text x="353" y="1552" textLength="24">::::::::</text>
<text x="5" y="1568" textLength="65">:::::::::::::::::::::::</text><text x="330" y="1568" textLength="28">::::::::::</text><text x="310" y="1568" textLength="18">::::::</text>
<text x="5" y="1585" textLength="63">::::::::::::::::::::::</text><text x="295" y="1585" textLength="17">::::::</text><text x="337" y="1585" textLength="13">::::</text><text x="363" y="1585" textLength="15">:::::</text>
<text x="5" y="1602" textLength="87">::::::::::::::::::::::::::::::</text><text x="108" y="1602" textLength="40">::::::::::::::</text>
<text x="5" y="1618" textLength="17">::::::</text><text x="30" y="1618" textLength="57">::::::::::::::::::::</text><text x="105" y="1618" textLength="20">:::::::</text><text x="130" y="1618" textLength="18">::::::</text><text x="280" y="1618" textLength="27">:::::::::</text>
<text x="30" y="1635" textLength="55">:::::::::::::::::::</text><text x="93" y="1635" textLength="27">:::::::::</text><text x="138" y="1635" textLength="25">:::::::::</text>
<text x="40" y="1652" textLength="22">::::::::</text><text x="123" y="1652" textLength="45">::::::::::::::::</text><text x="80" y="1652" textLength="13">:::::</text><text x="308" y="1652" textLength="12">::::</text>
<text x="78" y="1668" textLength="13">:::::</text><text x="95" y="1668" textLength="23">::::::::</text><text x="122" y="1668" textLength="81">::::::::::::::::::::::::::::</text><text x="263" y="1668" textLength="33">:::::::::::</text>
<text x="65" y="1685" textLength="55">:::::::::::::::::::</text><text x="122" y="1685" textLength="37">:::::::::::::</text>
<text x="58" y="1702" textLength="25">:::::::::</text><text x="85" y="1702" textLength="33">:::::::::::</text><text x="122" y="1702" textLength="13">:::::</text><text x="152" y="1702" textLength="38">:::::::::::::</text><text x="198" y="1702" textLength="45">::::::::::::::::</text>
<text x="37" y="1718" textLength="20">:::::::</text><text x="72" y="1718" textLength="48">::::::::::::::::</text><text x="137" y="1718" textLength="46">::::::::::::::::</text><text x="215" y="1718" textLength="18">::::::</text><text x="247" y="1718" textLength="18">::::::</text>
<text x="47" y="1735" textLength="10">:::</text><text x="78" y="1735" textLength="24">::::::::</text><text x="122" y="1735" textLength="12">::::</text><text x="148" y="1735" textLength="20">:::::::</text><text x="183" y="1735" textLength="50">:::::::::::::::::</text><text x="240" y="1735" textLength="24">::::::::</text>
<text x="18" y="1752" textLength="15">:::::</text><text x="38" y="1752" textLength="62">:::::::::::::::::::::</text><text x="170" y="1752" textLength="92">:::::::::::::::::::::::::::::::</text>
<text x="20" y="1768" textLength="10">:::</text><text x="40" y="1768" textLength="67">:::::::::::::::::::::::</text><text x="137" y="1768" textLength="123">:::::::::::::::::::::::::::::::::::::::::</text>
<text x="5" y="1785" textLength="28">::::::::::</text><text x="40" y="1785" textLength="23">::::::::</text><text x="72" y="1785" textLength="35">::::::::::::</text><text x="128" y="1785" textLength="38">:::::::::::::</text><text x="172" y="1785" textLength="73">:::::::::::::::::::::::::</text>
<text x="5" y="1802" textLength="28">::::::::::</text><text x="40" y="1802" textLength="55">:::::::::::::::::::</text><text x="122" y="1802" textLength="41">::::::::::::::</text><text x="172" y="1802" textLength="28">::::::::::</text><text x="245" y="1802" textLength="17">::::::</text>
<text x="5" y="1818" textLength="85">:::::::::::::::::::::::::::::</text><text x="105" y="1818" textLength="82">::::::::::::::::::::::::::::</text><text x="205" y="1818" textLength="12">::::</text><text x="235" y="1818" textLength="37">:::::::::::::</text>
<text x="5" y="1835" textLength="30">::::::::::</text><text x="48" y="1835" textLength="44">:::::::::::::::</text><text x="110" y="1835" textLength="63">:::::::::::::::::::::</text><text x="195" y="1835" textLength="18">::::::</text><text x="217" y="1835" textLength="16">:::::</text><text x="255" y="1835" textLength="22">::::::::</text>
<text x="5" y="1852" textLength="8">:::</text><text x="52" y="1852" textLength="23">::::::::</text><text x="95" y="1852" textLength="10">:::</text><text x="112" y="1852" textLength="66">:::::::::::::::::::::::</text><text x="188" y="1852" textLength="60">::::::::::::::::::::</text><text x="268" y="1852" textLength="14">:::::</text>
<text x="5" y="1868" textLength="8">:::</text><text x="37" y="1868" textLength="30">::::::::::</text><text x="75" y="1868" textLength="192">::::::::::::::::::::::::::::::::::::::::::::::::::::::::::::::::</text><text x="273" y="1868" textLength="15">:::::</text>
<text x="5" y="1885" textLength="8">:::</text><text x="25" y="1885" textLength="33">:::::::::::</text><text x="65" y="1885" textLength="48">::::::::::::::::</text><text x="125" y="1885" textLength="18">::::::</text><text x="175" y="1885" textLength="45">:::::::::::::::</text><text x="243" y="1885" textLength="82">::::::::::::::::::::::::::::</text>
<text x="5" y="1902" textLength="8">:::</text><text x="18" y="1902" textLength="38">:::::::::::::</text><text x="73" y="1902" textLength="30">::::::::::</text><text x="145" y="1902" textLength="73">:::::::::::::::::::::::::</text><text x="287" y="1902" textLength="35">:::::::::::</text>
<text x="5" y="1918" textLength="42">::::::::::::::</text><text x="137" y="1918" textLength="96">::::::::::::::::::::::::::::::::</text><text x="253" y="1918" textLength="49">:::::::::::::::::</text><text x="92" y="1918" textLength="12">::::</text>
<text x="5" y="1935" textLength="28">::::::::::</text><text x="188" y="1935" textLength="65">::::::::::::::::::::::</text>
<text x="5" y="1952" textLength="16">:::::</text><text x="30" y="1952" textLength="17">::::::</text><text x="207" y="1952" textLength="63">:::::::::::::::::::::</text>
<text x="5" y="1968" textLength="16">:::::</text><text x="225" y="1968" textLength="38">:::::::::::::</text>
</g>
<text x="5" y="1402">ﾉ)</text><text x="220" y="1402" style="font-size:12px" textLength="80">{iii{iii/iii/iii}iiiii}</text><text x="317" y="1402">(</text>
<text x="5" y="1418">::(</text><text x="207" y="1418" style="font-size:12px" textLength="95">}iii У i:/iii/iiii/iiiii</text><text x="308" y="1418">ヽ</text><text x="335" y="1418">(</text><text x="97" y="1421" textLength="30">―――</text>
<text x="15" y="1435">－</text><text x="33" y="1439">-</text><text x="143" y="1435">/}</text><text x="205" y="1435">ノ</text><text x="225" y="1435" style="font-size:12px" textLength="87">iiiiii/iiiiiiiiiii/</text><text x="97" y="1447" textLength="30">―――</text>
<text x="47" y="1452">-</text><text x="65" y="1456">_</text><text x="78" y="1456" textLength="15">__</text><text x="142" y="1452">i)</text><text x="202" y="1452" style="font-size:12px" textLength="91">iiiiiii:   iiiiiiii/</text><text x="367" y="1452">､</text>
<text x="5" y="1468">_､</text><text x="98" y="1468">＞</text><text x="117" y="1465">`</text><text x="120" y="1468" style="font-size:11px">:i:､</text><text x="133" y="1468">＜</text><text x="145" y="1468" textLength="37">_､-〃〃</text><text x="183" y="1468">ii</text><text x="193" y="1470" textLength="27">___</text><text x="222" y="1468" style="font-size:12px">iiii_､</text><text x="254" y="1468" textLength="26">-〃〃</text><text x="393" y="1468">(</text>
<text x="30" y="1489" textLength="13">__</text><text x="43" y="1485">/</text><text x="92" y="1485">i:</text><text x="103" y="1485">＜</text><text x="118" y="1478" textLength="14">⌒</text><text x="133" y="1485" style="font-size:12px" textLength="44">iiiiiiiiii:</text><text x="177" y="1478" textLength="15">⌒</text><text x="207" y="1485" style="font-size:12px">iiii</text><text x="238" y="1485">(</text><text x="263" y="1485">乂</text><text x="322" y="1478" textLength="18">⌒</text><text x="377" y="1485">}</text><text x="390" y="1485">ﾉ</text>
<text x="5" y="1502">.</text><text x="38" y="1502">/</text><text x="73" y="1502">/i/:</text><text x="115" y="1502" style="font-size:12px" textLength="93">iiiiiiiiii/iiiiiii_」</text><text x="208" y="1502" style="font-size:12px" textLength="35">iiiiiii:</text><text x="247" y="1502">―</text><text x="265" y="1502">､</text><text x="280" y="1502">)</text><text x="307" y="1502">(</text><text x="320" y="1504" textLength="14">__</text><text x="333" y="1502">ノ</text><text x="372" y="1502">/</text><text x="383" y="1502">(:::</text>
<text x="30" y="1518">/</text><text x="70" y="1518" style="font-size:12px" textLength="87">{iii[:/iiiiiiiiiii_､</text><text x="160" y="1518" textLength="20">-〃</text><text x="198" y="1518" style="font-size:12px" textLength="22">iiiii:</text><text x="222" y="1515" textLength="26">〃〃</text><text x="253" y="1518">ヽ</text><text x="255" y="1518" style="font-size:12px" textLength="15">iiii}</text><text x="365" y="1518" textLength="22">¬┘</text>
<text x="28" y="1535" textLength="20">､-〃</text><text x="70" y="1535" style="font-size:12px" textLength="50">{iii/iiiiiiii</text><text x="147" y="1535" style="font-size:12px" textLength="90">iiiii:/iiiiiiiiii_､</text><text x="238" y="1535">-へ</text><text x="263" y="1535">(</text><text x="270" y="1527" textLength="63">――――――</text><text x="333" y="1535">)</text>
<text x="52" y="1552">(</text><text x="58" y="1545" textLength="12">⌒</text><text x="72" y="1552" style="font-size:12px" textLength="50">iiiiiiiiii</text><text x="138" y="1552" style="font-size:12px" textLength="32">iiiiiiiiﾉ</text><text x="172" y="1552" textLength="38">たiii,-､</text><text x="227" y="1552" textLength="48">_､-¬^ヽ</text><text x="277" y="1552">ﾉ)</text><text x="307" y="1552">イ</text><text x="325" y="1545" textLength="13">⌒</text><text x="340" y="1552">)</text>
<text x="72" y="1568" style="font-size:12px" textLength="203">}iiiiiii/iiiiiiiiii{iii:/iiiiiiiﾃiiiiiiiiii.</text><text x="283" y="1568">(</text><text x="290" y="1568">/</text><text x="302" y="1568">:し</text><text x="318" y="1568">(</text><text x="362" y="1568">∠</text>
<text x="72" y="1585">乂</text><text x="95" y="1585">イ</text><text x="112" y="1578" textLength="15">⌒</text><text x="130" y="1585">)ﾉ</text><text x="143" y="1578" textLength="16">⌒</text><text x="160" y="1585" style="font-size:12px" textLength="48">Vたiiiiiir</text><text x="210" y="1585">へ</text><text x="225" y="1585">Γ</text><text x="240" y="1585">-</text><text x="248" y="1585">＼</text><text x="263" y="1585" style="font-size:12px">iii]-</text><text x="290" y="1585">_</text><text x="318" y="1585">.ﾉ＼</text><text x="353" y="1582">´</text><text x="383" y="1585">､</text>
<text x="95" y="1602">√Γ</text><text x="150" y="1602" style="font-size:12px" textLength="80">｢{{ /iiiii)从(´</text><text x="237" y="1602" style="font-size:12px" textLength="40">,,,私iii}</text><text x="293" y="1597" textLength="14">￣</text><text x="307" y="1602" textLength="58">-//､¬-､</text><text x="367" y="1602">::::}</text>
<text x="5" y="1618">:::</text><text x="12" y="1618">／</text><text x="88" y="1618">√Γ</text><text x="127" y="1618">/</text><text x="150" y="1618" style="font-size:12px" textLength="77">乂{iii(iii{^ｔミ｡</text><text x="237" y="1618" style="font-size:12px" textLength="43">ｨｯﾞﾉﾉ</text><text x="308" y="1618">〈/ﾄ〉</text><text x="373" y="1618">`ノ</text>
<text x="165" y="1635" textLength="30" style="font-size:12px">乂iii</text><text x="225" y="1635">〈{</text><text x="245" y="1635" textLength="83">⌒(^ニ⌒ヽ(´´</text><text x="380" y="1635">〉</text>
<text x="20" y="1656" textLength="13">__</text><text x="62" y="1652">/:/</text><text x="93" y="1652">}</text><text x="118" y="1652">/</text><text x="170" y="1652" textLength="87">-=⌒L¬-イ`</text><text x="282" y="1654" textLength="15">__</text><text x="295" y="1652">ノ</text><text x="320" y="1652">ヽ</text><text x="373" y="1652">/</text><text x="390" y="1652">^</text>
<text x="63" y="1668">У</text><text x="92" y="1668">}</text><text x="118" y="1668">}</text><text x="203" y="1658" textLength="17">￣</text><text x="232" y="1668">&gt;</text><text x="260" y="1668">(</text><text x="322" y="1668">/</text><text x="380" y="1662" textLength="15">⌒</text><text x="392" y="1668">&gt;</text><text x="318" y="1685">/</text>
<text x="402" y="1650">'＜</text><text x="400" y="1667">&gt;</text><text x="430" y="1667">,'＜</text><text x="415" y="1680" textLength="14">⌒</text><text x="428" y="1684">&gt;</text><text x="460" y="1682">,'＜</text><text x="452" y="1696" textLength="14">⌒</text><text x="466" y="1701">&gt;'</text>
<text x="60" y="1685">/</text><text x="120" y="1685">}</text><text x="167" y="1685">_､-〃〃</text><text x="202" y="1689" textLength="28">―――</text><text x="265" y="1689" textLength="28">―――</text><text x="315" y="1685">/</text><text x="352" y="1685">,</text>
<text x="5" y="1702">.</text><text x="43" y="1702">::/</text><text x="58" y="1702">{</text><text x="120" y="1702">)</text><text x="268" y="1698" textLength="35">r―――</text><text x="305" y="1702">ノ</text>
<text x="25" y="1718">{/</text><text x="58" y="1718">{</text><text x="68" y="1718">{</text><text x="205" y="1718">―</text><text x="267" y="1718">]</text><text x="278" y="1718">r</text><text x="295" y="1712">´</text>
<text x="20" y="1735">/:/</text><text x="58" y="1735">{</text><text x="68" y="1735">L</text><text x="235" y="1735">{</text><text x="265" y="1735">]</text><text x="277" y="1735">|</text>
<text x="17" y="1752">'</text><text x="35" y="1752">{</text><text x="103" y="1752">{</text><text x="263" y="1752">]</text><text x="275" y="1752">:</text><text x="277" y="1752">!</text><text x="330" y="1752">.</text>
<text x="37" y="1768">{</text><text x="263" y="1768">]</text><text x="275" y="1768">:</text><text x="277" y="1768">|</text><text x="310" y="1768">,</text><text x="323" y="1768">!</text>
<text x="37" y="1785">{</text><text x="67" y="1778">`</text><text x="108" y="1785">{</text><text x="120" y="1785">_/</text><text x="168" y="1785">}</text><text x="263" y="1785">!</text><text x="277" y="1785">|</text><text x="328" y="1775">',</text><text x="332" y="1785">'</text>
<text x="37" y="1802">{</text><text x="95" y="1804" textLength="15">__</text><text x="108" y="1802">ノ</text><text x="120" y="1802">}</text><text x="165" y="1802">)</text><text x="222" y="1802">―</text><text x="232" y="1802">/</text><text x="267" y="1802">Ⅵ</text><text x="335" y="1797">'</text>
<text x="273" y="1818">Ⅵ</text><text x="342" y="1808" textLength="33">,―――</text><text x="347" y="1820" textLength="30">ニニ</text><text x="376" y="1818">=-</text>
<text x="107" y="1835">{</text><text x="190" y="1835">/</text><text x="213" y="1835">{</text><text x="278" y="1835">Ⅵ</text><text x="348" y="1835">}</text><text x="352" y="1835" textLength="48">二二二二</text><text x="400" y="1833" textLength="15">二､</text>
<text x="108" y="1852">{</text><text x="185" y="1852">〈</text><text x="283" y="1852">Ⅵ</text><text x="345" y="1852">/</text><text x="352" y="1852" textLength="48">二二二二</text><text x="400" y="1851" textLength="17">二-</text>
<text x="15" y="1868">{</text><text x="28" y="1868">/</text><text x="68" y="1868">/</text><text x="268" y="1868">}</text><text x="290" y="1868">Ⅵ</text><text x="305" y="1870" textLength="18">__</text><text x="340" y="1868" textLength="60">二二二二</text><text x="400" y="1867" textLength="21">二 }</text>
<text x="15" y="1885">{:/</text><text x="58" y="1885">/</text><text x="117" y="1885">/</text><text x="160" y="1876" textLength="13">⌒</text><text x="327" y="1885">}</text><text x="332" y="1885" textLength="68">二二二二二</text><text x="400" y="1883" textLength="21">二 }</text>
<text x="15" y="1902">{</text><text x="107" y="1902">/</text><text x="118" y="1902">/</text><text x="137" y="1902">/</text><text x="257" y="1906" textLength="30">―――</text><text x="323" y="1902">/</text><text x="330" y="1902" textLength="70">二二二二二</text><text x="400" y="1900" textLength="27">二 {-</text>
<text x="63" y="1918">/</text><text x="68" y="1918">-</text><text x="105" y="1918">{</text><text x="128" y="1918">/</text><text x="320" y="1918" textLength="80">二二二二二二</text><text x="400" y="1917">二;</text><text x="433" y="1907">-</text><text x="447" y="1917">-</text><text x="458" y="1920">､</text>
<text x="57" y="1935">/</text><text x="62" y="1935" textLength="26">二二</text><text x="88" y="1935">]</text><text x="97" y="1935">iﾄ</text><text x="128" y="1939" textLength="59">――――――</text><text x="268" y="1939" textLength="30">―――</text><text x="300" y="1935">/</text><text x="320" y="1935" textLength="65">二二二二二</text><text x="385" y="1934">_-</text><text x="400" y="1927" textLength="11">二</text><text x="432" y="1935">_亅{_</text><text x="458" y="1933">!</text>
<text x="22" y="1952">/</text><text x="47" y="1952">/</text><text x="53" y="1952" textLength="135">二二二二二二二二二</text><text x="288" y="1952" textLength="32">二二</text><text x="335" y="1952" textLength="25">二=-</text><text x="362" y="1941" textLength="14">―</text><text x="415" y="1945" style="font-size:8px">〃〃,,</text><text x="435" y="1947">¬</text><text x="455" y="1947">_亅</text>
<text x="40" y="1968">.{</text><text x="45" y="1968" textLength="162">二二二二二二二二二二二</text><text x="265" y="1968">/</text><text x="272" y="1968" textLength="58">二二二-</text><text x="330" y="1968">&gt;</text>
<g class="m"><text x="522" y="1685" textLength="26">. . .</text><text x="553" y="1685">你</text><text x="568" y="1685" textLength="24">. . .</text><text x="598" y="1685">到底是誰。</text></g>
<text x="733" y="1972" textLength="57" style="font-size:15px;fill:#b5b5b5">拷貝漫畫</text>
</svg>
</body></html>
